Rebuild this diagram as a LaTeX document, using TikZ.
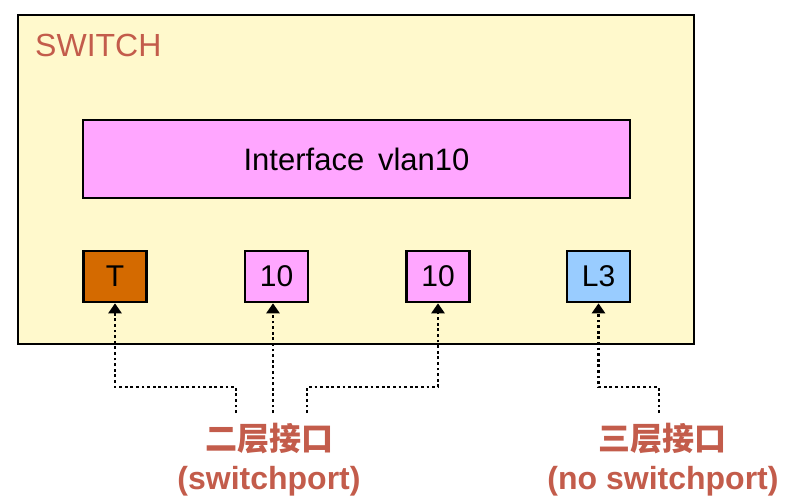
\documentclass[tikz,border=0pt]{standalone}
\usepackage{fontspec}
\setmainfont{Liberation Sans}
\newfontfamily\cjk{Noto Sans CJK SC}
\usetikzlibrary{arrows.meta}
\definecolor{swyellow}{HTML}{FFF9CC}
\definecolor{ifpink}{HTML}{FFA6FF}
\definecolor{trunkor}{HTML}{D46A00}
\definecolor{l3blue}{HTML}{99CCFF}
\definecolor{labred}{HTML}{C35C4B}
\tikzset{
  box/.style={draw=black, line width=2.6pt, rectangle, inner sep=0pt},
  port/.style={box, minimum width=63pt, minimum height=51pt, font=\fontsize{30}{32}\selectfont},
  conn/.style={line width=2.8pt, dash pattern=on 2.8pt off 2.8pt, -{Triangle[length=10pt,width=13pt]}},
  lab/.style={text=labred, font=\fontsize{32}{34}\selectfont\bfseries, inner sep=0pt},
}
\begin{document}
\begin{tikzpicture}[x=1pt,y=-1pt]
\useasboundingbox (0,0) rectangle (791,499);
\fill[white] (0,0) rectangle (791,499);
\node[box, fill=swyellow, minimum width=676pt, minimum height=329pt] (sw) at (356,179.5) {};
\node[anchor=west, text=labred, font=\fontsize{32}{34}\selectfont, inner sep=0pt] (swl) at (35,45) {SWITCH};
\node[box, fill=ifpink, minimum width=547pt, minimum height=78pt, font=\fontsize{31}{33}\selectfont] (ifv) at (356.5,159) {Interface\, vlan10};
\node[port, fill=trunkor] (pt) at (115,276.5) {T};
\node[port, fill=ifpink] (pa) at (276.5,276.5) {10};
\node[port, fill=ifpink] (pb) at (438,276.5) {10};
\node[port, fill=l3blue] (pl) at (598.5,276.5) {L3};
\node[lab] (l2cn) at (269,439) {\cjk\bfseries 二层接口};
\node[lab] (l2en) at (269,481) {(switchport)};
\node[lab] (l3cn) at (662,439) {\cjk\bfseries 三层接口};
\node[lab] (l3en) at (663,481) {(no switchport)};
\coordinate (c1) at (236,413);
\coordinate (c2) at (273,413);
\coordinate (c3) at (307,413);
\coordinate (c4) at (659,413);
\draw[conn] (c1) -- (236,387) -| (pt.south);
\draw[conn] (c2) -- (c2 |- pa.south);
\draw[conn] (c3) -- (307,387) -| (pb.south);
\draw[conn] (c4) -- (659,387) -| (pl.south);
\end{tikzpicture}
\end{document}
